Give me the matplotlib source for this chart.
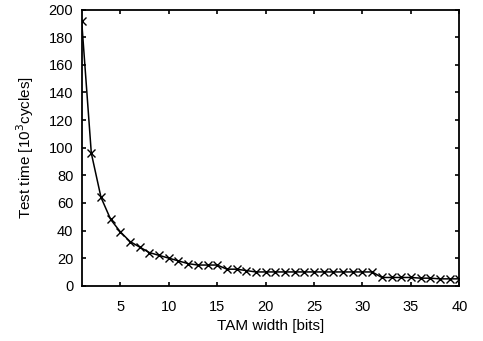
import numpy as np
import matplotlib
matplotlib.use('Agg')
import matplotlib.pyplot as plt

plt.rcParams['font.family'] = ['Liberation Sans', 'DejaVu Sans']

width = list(range(1, 41))
test_time = [192, 96, 64, 48, 39, 32, 28, 24, 22, 20,
             18, 16, 15, 15, 15, 12, 12, 11, 10, 10,
             10, 10, 10, 10, 10, 10, 10, 10, 10, 10,
             10, 6, 6, 6, 6, 5.5, 5.5, 5, 5, 5]

fig = plt.figure(figsize=(4.83, 3.41), dpi=100)
ax = fig.add_axes([0.169, 0.162, 0.782, 0.810])
ax.plot(width, test_time, color='black', linewidth=1.1, marker='x',
        markersize=6, markeredgewidth=1.0)

ax.set_xlim(1, 40)
ax.set_ylim(0, 200)
ax.set_xticks([5, 10, 15, 20, 25, 30, 35, 40])
ax.set_yticks(range(0, 201, 20))
ax.tick_params(direction='in', top=True, right=True, labelsize=10.5,
               length=3, width=1.2)
ax.tick_params(axis='x', pad=10)
ax.tick_params(axis='y', pad=6)
for s in ax.spines.values():
    s.set_linewidth(1.3)

ax.set_xlabel('TAM width [bits]', fontsize=11, labelpad=4)
ax.set_ylabel('Test time [10$^3$cycles]', fontsize=11, labelpad=9)

fig.savefig('out.png', dpi=100)
